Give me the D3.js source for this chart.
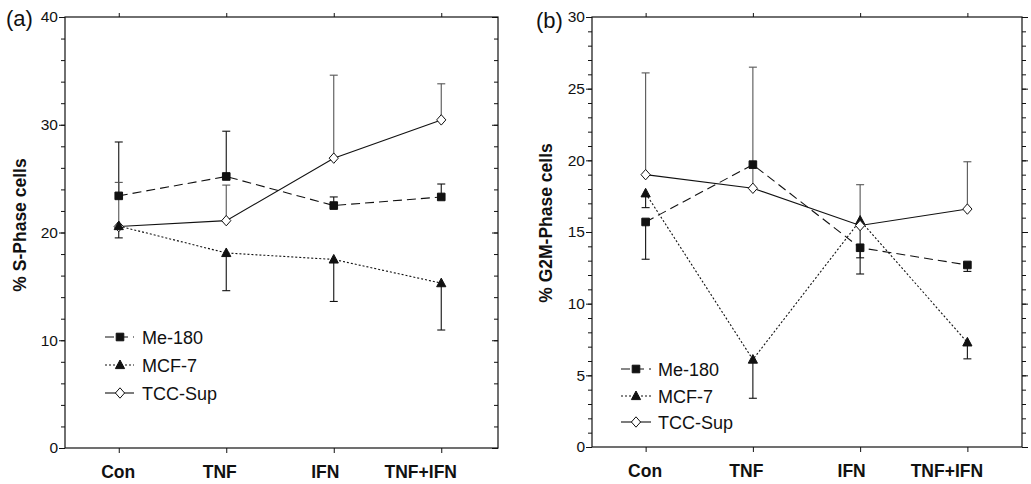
<!DOCTYPE html>
<html>
<head>
<meta charset="utf-8">
<script src="https://cdn.jsdelivr.net/npm/d3@7/dist/d3.min.js"></script>
<style>
  html, body { margin: 0; padding: 0; background: #fff; }
  svg { display: block; }
  text { font-family: "Liberation Sans", Arial, Helvetica, sans-serif; fill: #111; }
</style>
</head>
<body>
<svg id="chart" width="1031" height="484"></svg>
<script>
// ---------------- data ----------------
const categories = ["Con", "TNF", "IFN", "TNF+IFN"];
const seriesNames = ["Me-180", "MCF-7", "TCC-Sup"];

// (a) % S-Phase cells
const sMe180    = [23.4, 25.2, 22.5, 23.3];
const sMe180Err = [5.0, 4.2, 0.8, 1.2];        // + = upward bar, - = downward bar
const sMcf7     = [20.6, 18.1, 17.5, 15.3];
const sMcf7Err  = [-1.1, -3.5, -3.9, -4.35];
const sTcc      = [20.55, 21.1, 26.9, 30.45];
const sTccErr   = [4.1, 3.3, 7.7, 3.35];

// (b) % G2M-Phase cells
const gMe180    = [15.7, 19.7, 13.9, 12.7];
const gMe180Err = [-2.6, 0, -1.83, -0.45];
const gMcf7     = [17.7, 6.1, 15.8, 7.3];
const gMcf7Err  = [-1.0, -2.7, -2.6, -1.15];
const gTcc      = [19.0, 18.05, 15.45, 16.6];
const gTccErr   = [7.1, 8.45, 2.85, 3.3];

const sTicks = [0, 10, 20, 30, 40];
const gTicks = [0, 5, 10, 15, 20, 25, 30];

// ---------------- styles ----------------
const styles = {
  "Me-180":  { dash: "9,5", marker: "square" },
  "MCF-7":   { dash: "2,2", marker: "triangle" },
  "TCC-Sup": { dash: null,  marker: "diamond" }
};
// horizontal shift of category labels relative to their ticks (as in the original figure)
const catLabelShift = [-1, -7, -9, -21];

const svg = d3.select("#chart");

function markerPath(type) {
  if (type === "square") return "M-3.8,-3.8H3.8V3.8H-3.8Z";
  if (type === "triangle") return "M0,-5L4.6,3.6H-4.6Z";
  return "M0,-5.2L4.6,0L0,5.2L-4.6,0Z";
}

function drawPanel(cfg) {
  const g = svg.append("g");
  const x = d3.scalePoint().domain(categories).range([cfg.x0, cfg.x1]).padding(0.5);
  const y = d3.scaleLinear().domain(cfg.domain).range([cfg.yBot, cfg.yTop]);

  const minorVals = d3.range(cfg.domain[0], cfg.domain[1] + 0.001, cfg.minor);

  // left axis: minor ticks
  g.append("g").attr("transform", `translate(${cfg.x0},0)`)
    .call(d3.axisLeft(y).tickValues(minorVals).tickSize(4).tickFormat(""))
    .call(a => a.select(".domain").remove());
  // left axis: major ticks + labels
  g.append("g").attr("transform", `translate(${cfg.x0},0)`)
    .call(d3.axisLeft(y).tickValues(cfg.ticks).tickSize(6).tickPadding(1).tickFormat(d3.format("d")))
    .call(a => a.select(".domain").remove())
    .call(a => a.selectAll("text").style("font-size", "15.5px").attr("fill", "#111"));

  // right axis
  g.append("g").attr("transform", `translate(${cfg.frameRight},0)`)
    .call(d3.axisRight(y).tickValues(minorVals).tickSize(cfg.rightInside ? -4 : 4).tickFormat(""))
    .call(a => a.select(".domain").remove());
  g.append("g").attr("transform", `translate(${cfg.frameRight},0)`)
    .call(d3.axisRight(y).tickValues(cfg.ticks).tickSize(cfg.rightInside ? -6 : 6).tickFormat(""))
    .call(a => a.select(".domain").remove());

  // top axis
  g.append("g").attr("transform", `translate(0,${cfg.yTop})`)
    .call(d3.axisTop(x).tickSize(4).tickFormat(""))
    .call(a => a.select(".domain").remove());
  // bottom axis
  g.append("g").attr("transform", `translate(0,${cfg.yBot})`)
    .call(d3.axisBottom(x).tickSize(5).tickPadding(13))
    .call(a => a.select(".domain").remove())
    .call(a => a.selectAll("text")
      .style("font-size", "17.5px").style("font-weight", "bold").attr("fill", "#111")
      .attr("dx", (d, i) => catLabelShift[i]));

  g.selectAll(".tick line").attr("stroke", "#111");

  // frame
  g.append("rect")
    .attr("x", cfg.x0).attr("y", cfg.yTop)
    .attr("width", cfg.frameRight - cfg.x0).attr("height", cfg.yBot - cfg.yTop)
    .attr("fill", "none").attr("stroke", "#111").attr("stroke-width", 1.2);

  // series lines
  const line = d3.line().x((d, i) => x(categories[i])).y(d => y(d));
  cfg.series.forEach(s => {
    g.append("path").datum(s.values)
      .attr("d", line)
      .attr("fill", "none")
      .attr("stroke", "#111")
      .attr("stroke-width", 1.1)
      .attr("stroke-dasharray", styles[s.name].dash);
  });

  // error bars
  cfg.series.forEach(s => {
    s.values.forEach((v, i) => {
      const e = s.err[i];
      if (!e) return;
      const cx = x(categories[i]);
      const end = y(v + e);
      const col = s.name === "TCC-Sup" ? "#555" : "#111";
      g.append("line").attr("x1", cx).attr("x2", cx)
        .attr("y1", y(v)).attr("y2", end)
        .attr("stroke", col).attr("stroke-width", 1.1);
      g.append("line").attr("x1", cx - 4).attr("x2", cx + 4)
        .attr("y1", end).attr("y2", end)
        .attr("stroke", col).attr("stroke-width", 1.1);
    });
  });

  // markers
  cfg.markerOrder.forEach(name => {
    const s = cfg.series.find(d => d.name === name);
    const st = styles[name];
    s.values.forEach((v, i) => {
      g.append("path")
        .attr("d", markerPath(st.marker))
        .attr("transform", `translate(${x(categories[i])},${y(v)})`)
        .attr("fill", st.marker === "diamond" ? "#fff" : "#111")
        .attr("stroke", "#111").attr("stroke-width", 1);
    });
  });

  // legend
  seriesNames.forEach((name, k) => {
    const st = styles[name];
    const ly = cfg.legend.ys[k];
    g.append("line").attr("x1", cfg.legend.x0).attr("x2", cfg.legend.x1)
      .attr("y1", ly).attr("y2", ly)
      .attr("stroke", "#111").attr("stroke-width", 1.1)
      .attr("stroke-dasharray", st.dash);
    g.append("path").attr("d", markerPath(st.marker))
      .attr("transform", `translate(${cfg.legend.mk},${ly})`)
      .attr("fill", st.marker === "diamond" ? "#fff" : "#111")
      .attr("stroke", "#111").attr("stroke-width", 1);
    g.append("text").attr("x", cfg.legend.tx).attr("y", ly + 6.5)
      .style("font-size", "18px").text(name);
  });

  // y title
  g.append("text")
    .attr("transform", `translate(${cfg.titleX},${cfg.titleY}) rotate(-90)`)
    .attr("text-anchor", "middle")
    .style("font-size", "17.5px").style("font-weight", "bold")
    .text(cfg.title);

  // panel label
  g.append("text").attr("x", cfg.labelX).attr("y", cfg.labelY)
    .style("font-size", "22px").text(cfg.label);
}

drawPanel({
  x0: 65, x1: 495, frameRight: 498, yTop: 17, yBot: 448,
  domain: [0, 40], ticks: sTicks, minor: 2, rightInside: true,
  series: [
    { name: "Me-180", values: sMe180, err: sMe180Err },
    { name: "MCF-7", values: sMcf7, err: sMcf7Err },
    { name: "TCC-Sup", values: sTcc, err: sTccErr }
  ],
  markerOrder: ["TCC-Sup", "Me-180", "MCF-7"],
  legend: { x0: 105, mk: 120, x1: 134, tx: 142, ys: [337, 365, 393] },
  title: "% S-Phase cells", titleX: 26, titleY: 225,
  label: "(a)", labelX: 6, labelY: 26
});

drawPanel({
  x0: 592, x1: 1021, frameRight: 1022, yTop: 17, yBot: 447,
  domain: [0, 30], ticks: gTicks, minor: 1, rightInside: false,
  series: [
    { name: "Me-180", values: gMe180, err: gMe180Err },
    { name: "MCF-7", values: gMcf7, err: gMcf7Err },
    { name: "TCC-Sup", values: gTcc, err: gTccErr }
  ],
  markerOrder: ["Me-180", "MCF-7", "TCC-Sup"],
  legend: { x0: 621, mk: 636, x1: 651, tx: 658, ys: [369, 396, 422] },
  title: "% G2M-Phase cells", titleX: 552, titleY: 223,
  label: "(b)", labelX: 536, labelY: 28
});
</script>
</body>
</html>
